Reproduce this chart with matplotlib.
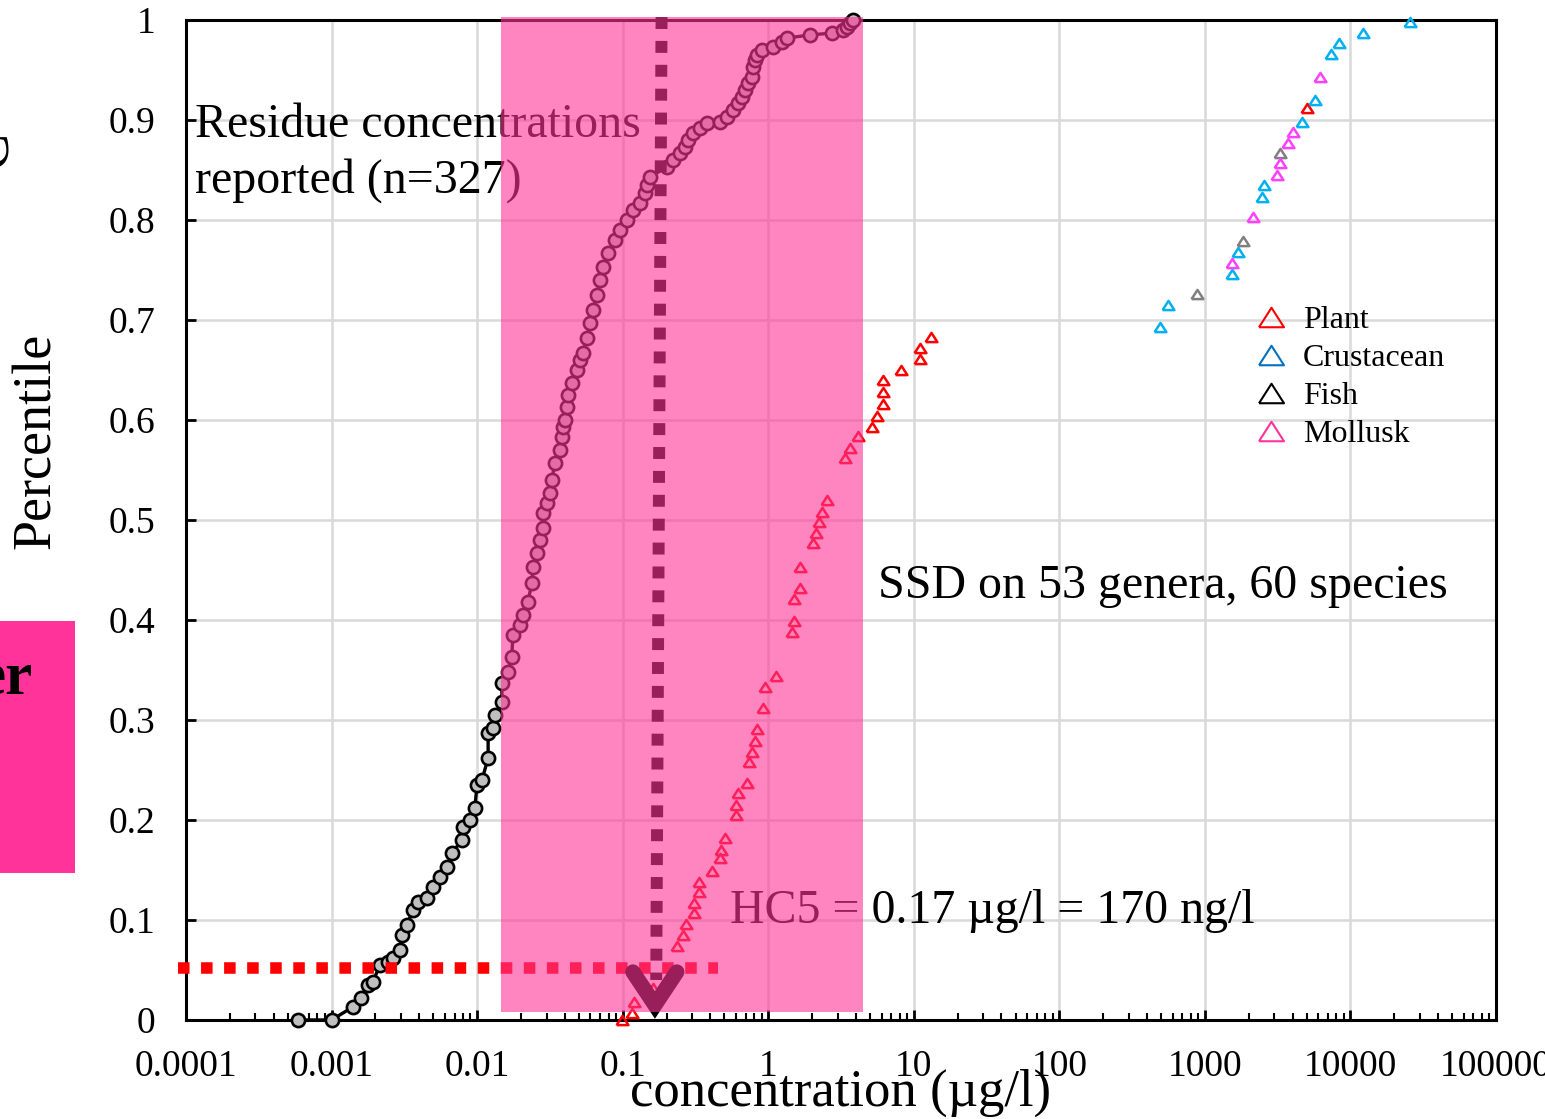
import numpy as np
import matplotlib
matplotlib.use('Agg')
import matplotlib.pyplot as plt
from matplotlib.lines import Line2D
from matplotlib.patches import Rectangle
from matplotlib.ticker import FixedLocator, LogLocator, NullFormatter

plt.rcParams['font.family'] = ['Liberation Serif', 'DejaVu Serif']

# residue concentrations reported (ug/l) with their percentile
residue_conc = [0.00059, 0.001, 0.0014, 0.0016, 0.00178, 0.00192, 0.00215, 0.00244, 0.00264, 0.00295,
                0.00305, 0.0033, 0.00362, 0.00392, 0.00452, 0.00497, 0.00556, 0.00621, 0.00671, 0.00787,
                0.00798, 0.00893, 0.00966, 0.00997, 0.0108, 0.0119, 0.0119, 0.0128, 0.0132, 0.0148,
                0.0148, 0.0163, 0.0173, 0.0176, 0.0197, 0.0206, 0.0223, 0.0238, 0.0242, 0.0258,
                0.027, 0.0283, 0.0283, 0.0301, 0.0316, 0.0326, 0.0342, 0.037, 0.0382, 0.0388,
                0.0401, 0.0414, 0.042, 0.0448, 0.0484, 0.0508, 0.0533, 0.0568, 0.0596, 0.0624,
                0.0665, 0.0698, 0.0731, 0.0791, 0.0883, 0.0957, 0.107, 0.117, 0.131, 0.142,
                0.147, 0.154, 0.201, 0.221, 0.247, 0.267, 0.28, 0.303, 0.339, 0.379,
                0.465, 0.52, 0.571, 0.618, 0.659, 0.691, 0.724, 0.771, 0.783, 0.809,
                0.835, 0.903, 1.08, 1.24, 1.34, 1.93, 2.74, 3.25, 3.46, 3.63, 3.81]
residue_pct = [0.0, 0.0, 0.013, 0.022, 0.035, 0.038, 0.055, 0.058, 0.062, 0.07,
               0.085, 0.095, 0.11, 0.118, 0.122, 0.133, 0.143, 0.153, 0.167, 0.18,
               0.193, 0.2, 0.212, 0.235, 0.24, 0.262, 0.287, 0.292, 0.305, 0.318,
               0.337, 0.348, 0.363, 0.385, 0.395, 0.405, 0.418, 0.437, 0.453, 0.467,
               0.48, 0.492, 0.507, 0.517, 0.527, 0.54, 0.557, 0.57, 0.583, 0.593,
               0.6, 0.613, 0.625, 0.637, 0.65, 0.66, 0.667, 0.682, 0.697, 0.71,
               0.725, 0.74, 0.753, 0.767, 0.78, 0.79, 0.8, 0.81, 0.817, 0.827,
               0.835, 0.843, 0.853, 0.86, 0.867, 0.873, 0.88, 0.887, 0.892, 0.897,
               0.898, 0.903, 0.91, 0.917, 0.923, 0.93, 0.937, 0.943, 0.953, 0.96,
               0.965, 0.97, 0.973, 0.978, 0.982, 0.985, 0.987, 0.99, 0.993, 0.997, 1.0]

# SSD, sensitive species (all plants)
plant_conc = [0.099, 0.116, 0.119, 0.161, 0.235, 0.259, 0.272, 0.308, 0.308, 0.334,
              0.334, 0.41, 0.465, 0.472, 0.504, 0.598, 0.598, 0.618, 0.713, 0.736,
              0.771, 0.809, 0.835, 0.918, 0.948, 1.13, 1.45, 1.5, 1.5, 1.65,
              1.65, 2.02, 2.12, 2.23, 2.33, 2.52, 3.36, 3.63, 4.12, 5.15,
              5.57, 6.12, 6.12, 6.12, 8.14, 11.0, 11.0, 13.1]
plant_pct = [0.0, 0.007, 0.018, 0.032, 0.074, 0.085, 0.096, 0.107, 0.117, 0.128,
             0.138, 0.149, 0.162, 0.17, 0.182, 0.205, 0.215, 0.227, 0.237, 0.258,
             0.268, 0.279, 0.291, 0.312, 0.333, 0.344, 0.388, 0.399, 0.421, 0.432,
             0.453, 0.477, 0.487, 0.498, 0.508, 0.52, 0.562, 0.572, 0.584, 0.593,
             0.604, 0.616, 0.628, 0.64, 0.65, 0.661, 0.672, 0.683]

# SSD, tolerant species
upper_conc = [490, 556, 880, 1530, 1530, 1680, 1820, 2130, 2455, 2535, 3110, 3265,
              3265, 3700, 4010, 4620, 5000, 5670, 6140, 7310, 8300, 12100, 25500]
upper_pct = [0.693, 0.715, 0.726, 0.746, 0.757, 0.768, 0.779, 0.803, 0.823, 0.835, 0.845, 0.857,
             0.867, 0.877, 0.888, 0.898, 0.912, 0.92, 0.943, 0.966, 0.977, 0.987, 0.998]
upper_group = ['Crustacean', 'Crustacean', 'Fish', 'Crustacean', 'Mollusk', 'Crustacean',
               'Fish', 'Mollusk', 'Crustacean', 'Crustacean', 'Mollusk', 'Mollusk',
               'Fish', 'Mollusk', 'Mollusk', 'Crustacean', 'Plant', 'Crustacean',
               'Mollusk', 'Crustacean', 'Crustacean', 'Crustacean', 'Crustacean']

groups = ['Plant', 'Crustacean', 'Fish', 'Mollusk']
point_colors = {'Plant': '#FF0000', 'Crustacean': '#00B0F0', 'Fish': '#808080', 'Mollusk': '#FF40FF'}
legend_colors = {'Plant': '#FF0000', 'Crustacean': '#0070C0', 'Fish': '#000000', 'Mollusk': '#FF3399'}

hc5 = 0.17
hc5_pct = 0.052
range_lo, range_hi = 0.0146, 4.47

x_ticks = [1e-4, 1e-3, 1e-2, 1e-1, 1, 10, 100, 1000, 10000, 100000]
x_tick_labels = ['0.0001', '0.001', '0.01', '0.1', '1', '10', '100', '1000', '10000', '100000']
y_ticks = [0, 0.1, 0.2, 0.3, 0.4, 0.5, 0.6, 0.7, 0.8, 0.9, 1]
y_tick_labels = ['0', '0.1', '0.2', '0.3', '0.4', '0.5', '0.6', '0.7', '0.8', '0.9', '1']

tri = [(-1, -0.78), (1, -0.78), (0, 0.78), (-1, -0.78)]

fig = plt.figure(figsize=(15.45, 11.19), dpi=100)
ax = fig.add_axes([0.1204, 0.0885, 0.8479, 0.8936])
ax.set_xscale('log')
ax.set_xlim(1e-4, 1e5)
ax.set_ylim(0, 1)

ax.xaxis.set_major_locator(FixedLocator(x_ticks))
ax.set_xticklabels(x_tick_labels)
ax.xaxis.set_minor_locator(LogLocator(base=10, subs=range(2, 10), numticks=30))
ax.xaxis.set_minor_formatter(NullFormatter())
ax.set_yticks(y_ticks)
ax.set_yticklabels(y_tick_labels)
ax.tick_params(which='major', direction='in', length=7, width=2, labelsize=27)
ax.tick_params(which='minor', direction='in', length=5, width=1.5)
ax.tick_params(axis='x', pad=21)
ax.tick_params(axis='y', pad=22, left=True, right=False)
ax.grid(True, which='major', color='#D9D9D9', lw=1.8)
ax.set_axisbelow(True)
for s in ax.spines.values():
    s.set_linewidth(2.2)

# residue curve
ax.plot(residue_conc, residue_pct, '-o', color='black', lw=2.4, ms=9.5, mfc='#BFBFBF',
        mec='black', mew=1.9, clip_on=False, zorder=4)

# SSD points
ax.plot(plant_conc, plant_pct, ls='none', marker=tri, ms=8.5, mfc='none',
        mec=point_colors['Plant'], mew=1.8, clip_on=False, zorder=4)
for g in groups:
    xs = [c for c, gg in zip(upper_conc, upper_group) if gg == g]
    ys = [p for p, gg in zip(upper_pct, upper_group) if gg == g]
    ax.plot(xs, ys, ls='none', marker=tri, ms=8.5, mfc='none',
            mec=point_colors[g], mew=1.8, clip_on=False, zorder=4)

# HC5 lines
ax.plot([8.8e-5, 0.45], [hc5_pct, hc5_pct], color='red', lw=8.3, ls=(0, (1, 1)),
        dash_capstyle='butt', clip_on=False, zorder=5)
ax.plot([0.185, hc5], [1.003, 0.04], color='black', lw=8.6, ls=(0, (1, 1)),
        dash_capstyle='butt', clip_on=False, zorder=5)
ax.plot([0.1175, 0.1665, 0.2355], [0.048, 0.015, 0.048], color='black', lw=11,
        solid_capstyle='round', solid_joinstyle='miter', clip_on=False, zorder=5)

# texts
ax.text(1.15e-4, 0.883, 'Residue concentrations', fontsize=34.5, va='baseline', zorder=6)
ax.text(1.15e-4, 0.827, 'reported (n=327)', fontsize=34.5, va='baseline', zorder=6)
ax.text(5.66, 0.422, 'SSD on 53 genera, 60 species', fontsize=34.5, va='baseline', zorder=6)
ax.text(0.544, 0.097, 'HC5 = 0.17 µg/l = 170 ng/l', fontsize=34.5, va='baseline', zorder=6)

# range of reported residues
ax.add_patch(Rectangle((range_lo, 0.008), range_hi - range_lo, 0.995, facecolor='#FF3496',
                       alpha=0.6, edgecolor='none', zorder=10, clip_on=False))

handles = [Line2D([], [], ls='none', marker=tri, ms=18, mfc='none', mec=legend_colors[g], mew=1.5)
           for g in groups]
ax.legend(handles, groups, loc='upper left', bbox_to_anchor=(0.816, 0.714), frameon=False,
          fontsize=23, handlelength=1.0, handletextpad=0.5, labelspacing=0.27,
          borderpad=0, borderaxespad=0)

fig.text(841 / 1545, 1 - 1093 / 1119, 'concentration (µg/l)', fontsize=38, ha='center', va='center')
fig.text(37 / 1545, 1 - 441 / 1119, 'Percentile', fontsize=39, rotation=90, ha='center', va='center')

# pieces of neighbouring slide content
fig.add_artist(Rectangle((0, 1 - 873 / 1119), 75 / 1545, 252 / 1119, transform=fig.transFigure,
                         facecolor='#FF3399', edgecolor='none'))
fig.text(33 / 1545, 1 - 693 / 1119, 'er', fontsize=44, fontweight='bold', ha='right', va='baseline')
fig.text(-8 / 1545, 1 - 150 / 1119, 'C', fontsize=40, rotation=90, ha='center', va='center')

fig.savefig('out.png', dpi=100)
